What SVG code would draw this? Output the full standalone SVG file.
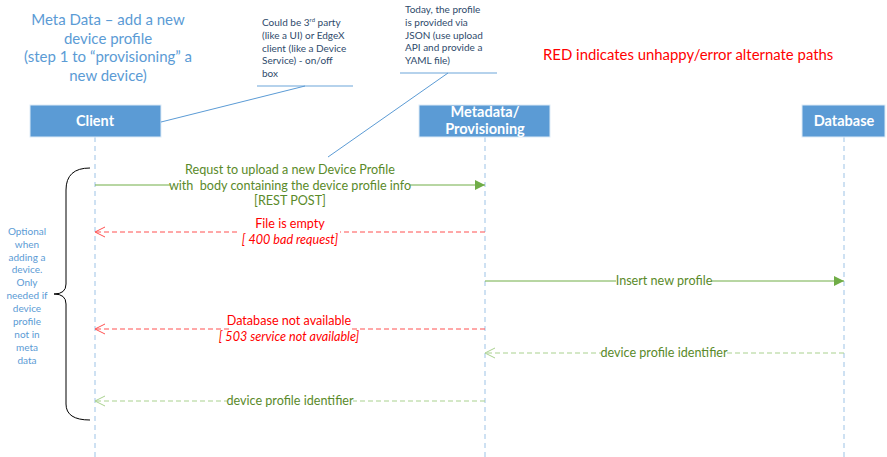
<svg xmlns="http://www.w3.org/2000/svg" width="887" height="457" viewBox="0 0 887 457">
<style>
.box{fill:#5B9BD5;stroke:#DEEBF7;stroke-width:1}
.bt{font-family:Lato,"Open Sans",sans-serif;font-weight:bold;font-size:14.5px;fill:#fff;text-anchor:middle}
.life{stroke:#9DC3E6;stroke-width:1;stroke-dasharray:5,4;fill:none}
.t{font-family:Lato,"Open Sans",sans-serif;text-anchor:middle}
.g{fill:#5A8A2A;font-size:12.6px}
.r{fill:#FF0000;font-size:12.6px}
.ri{fill:#FF0000;font-size:12.6px;font-style:italic}
.note{font-family:Lato,"Open Sans",sans-serif;font-size:10px;fill:#2E4A6B}
.call{stroke:#5B9BD5;stroke-width:1;fill:none}
.ul{stroke:#9DC3E6;stroke-width:1.5}
.sg{stroke:#70AD47;stroke-width:1;fill:none}
.dg{stroke:#A9D18E;stroke-width:1;stroke-dasharray:5,3;fill:none}
.dr{stroke:#FF5050;stroke-width:1;stroke-dasharray:5,3;fill:none}
.bg{fill:#fff}
</style>
<defs>
<marker id="fa" viewBox="0 0 10 10" refX="10" refY="5" markerWidth="10" markerHeight="10" markerUnits="userSpaceOnUse" orient="auto">
<path d="M0,0 L10,5 L0,10 z" fill="#70AD47"/>
</marker>
<marker id="og" viewBox="0 0 12 12" refX="11" refY="6" markerWidth="12" markerHeight="12" markerUnits="userSpaceOnUse" orient="auto">
<path d="M1,1 L11,6 L1,11" fill="none" stroke="#A9D18E" stroke-width="1"/>
</marker>
<marker id="or" viewBox="0 0 12 12" refX="11" refY="6" markerWidth="12" markerHeight="12" markerUnits="userSpaceOnUse" orient="auto">
<path d="M1,1 L11,6 L1,11" fill="none" stroke="#FF5050" stroke-width="1"/>
</marker>
</defs>

<g id="title">
<text class="t" x="108" y="25" font-size="15" fill="#5B9BD5">Meta Data – add a new</text>
<text class="t" x="108" y="44" font-size="15" fill="#5B9BD5">device profile</text>
<text class="t" x="108" y="62" font-size="15" fill="#5B9BD5">(step 1 to “provisioning” a</text>
<text class="t" x="108" y="81" font-size="15" fill="#5B9BD5">new device)</text>
</g>

<g id="legend">
<text x="543" y="60" font-family="Lato,'Open Sans',sans-serif" font-size="14.9" fill="#FF0000">RED indicates unhappy/error alternate paths</text>
</g>

<g id="lifelines">
<line class="life" x1="95" y1="137" x2="95" y2="457"/>
<line class="life" x1="485" y1="137" x2="485" y2="457"/>
<line class="life" x1="844" y1="137" x2="844" y2="457"/>
</g>

<g id="client">
<rect class="box" x="30" y="105" width="131" height="32"/>
<text class="bt" x="95" y="126">Client</text>
</g>
<g id="metadata">
<rect class="box" x="419" y="105" width="131" height="32"/>
<text class="bt" x="485" y="116.5">Metadata/</text>
<text class="bt" x="485" y="134">Provisioning</text>
</g>
<g id="database">
<rect class="box" x="802" y="105" width="83" height="32"/>
<text class="bt" x="844" y="126">Database</text>
</g>

<g id="note1">
<text class="note" x="262" y="26">Could be 3<tspan font-size="6" dy="-4">rd</tspan><tspan dy="4"> party</tspan></text>
<text class="note" x="262" y="39">(like a UI)  or EdgeX</text>
<text class="note" x="262" y="52">client (like a Device</text>
<text class="note" x="262" y="64">Service) - on/off</text>
<text class="note" x="262" y="77">box</text>
<line class="ul" x1="257" y1="86" x2="353" y2="86"/>
<line class="call" x1="305" y1="86" x2="161" y2="122"/>
</g>
<g id="note2">
<text class="note" x="405" y="13">Today, the profile</text>
<text class="note" x="405" y="26">is provided via</text>
<text class="note" x="405" y="39">JSON (use upload</text>
<text class="note" x="405" y="51">API and provide a</text>
<text class="note" x="405" y="64">YAML file)</text>
<line class="ul" x1="400" y1="73" x2="497" y2="73"/>
<line class="call" x1="448" y1="73" x2="328" y2="157"/>
</g>

<g id="brace">
<path d="M90,168 Q66,168 66,190 L66,284 Q66,294 54,294 Q66,294 66,304 L66,404 Q66,420 90,420" fill="none" stroke="#000" stroke-width="1"/>
<g class="t" font-size="10" fill="#5B9BD5">
<text x="27" y="235">Optional</text>
<text x="27" y="248">when</text>
<text x="27" y="261">adding a</text>
<text x="27" y="273">device.</text>
<text x="27" y="286">Only</text>
<text x="27" y="299">needed if</text>
<text x="27" y="312">device</text>
<text x="27" y="325">profile</text>
<text x="27" y="338">not in</text>
<text x="27" y="351">meta</text>
<text x="27" y="364">data</text>
</g>
</g>

<g id="connectors">
<line class="sg" x1="95" y1="185" x2="485" y2="185" marker-end="url(#fa)"/>
<rect class="bg" x="170" y="160" width="240" height="44"/>
<text class="t g" x="290" y="174">Requst to upload a new Device Profile</text>
<text class="t g" x="290" y="190">with&#160; body containing the device profile info</text>
<text class="t g" x="290" y="205">[REST POST]</text>

<line class="dr" x1="485" y1="232" x2="95" y2="232" marker-end="url(#or)"/>
<rect class="bg" x="240" y="216" width="100" height="30"/>
<text class="t r" x="290" y="228">File is empty</text>
<text class="t ri" x="290" y="244">[ 400 bad request]</text>

<line class="sg" x1="485" y1="281" x2="844" y2="281" marker-end="url(#fa)"/>
<rect class="bg" x="616" y="273" width="95" height="16"/>
<text class="t g" x="664" y="285">Insert new profile</text>

<line class="dr" x1="485" y1="329" x2="95" y2="329" marker-end="url(#or)"/>
<rect class="bg" x="229" y="313" width="121" height="32"/>
<text class="t r" x="289" y="325">Database not available</text>
<text class="t ri" x="289" y="341">[ 503 service not available]</text>

<line class="dg" x1="844" y1="353" x2="485" y2="353" marker-end="url(#og)"/>
<rect class="bg" x="601" y="345" width="126" height="16"/>
<text class="t g" x="664" y="357">device profile identifier</text>

<line class="dg" x1="485" y1="401" x2="95" y2="401" marker-end="url(#og)"/>
<rect class="bg" x="227" y="393" width="126" height="16"/>
<text class="t g" x="290" y="405">device profile identifier</text>
</g>
</svg>
